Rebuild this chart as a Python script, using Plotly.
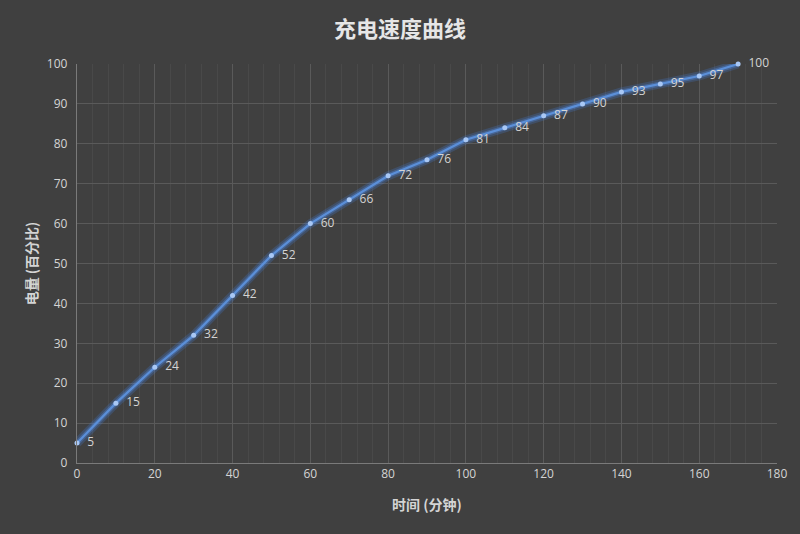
import plotly.graph_objects as go

minutes = [0, 10, 20, 30, 40, 50, 60, 70, 80, 90, 100, 110, 120, 130, 140, 150, 160, 170]
battery = [5, 15, 24, 32, 42, 52, 60, 66, 72, 76, 81, 84, 87, 90, 93, 95, 97, 100]
labels = [f"  {v}" for v in battery]

title_text = "充电速度曲线"
x_title = "时间 (分钟)"
y_title = "电量 (百分比)"

fig = go.Figure()
# glow
fig.add_trace(go.Scatter(x=minutes, y=battery, mode="lines",
                         line=dict(color="rgba(70,130,230,0.22)", width=9),
                         hoverinfo="skip", showlegend=False, cliponaxis=False))
fig.add_trace(go.Scatter(x=minutes, y=battery, mode="lines",
                         line=dict(color="rgba(80,140,235,0.35)", width=5),
                         hoverinfo="skip", showlegend=False, cliponaxis=False))
fig.add_trace(go.Scatter(x=minutes, y=battery, mode="lines+markers+text",
                         line=dict(color="#5b8fd8", width=2.2),
                         marker=dict(color="#a9c8f5", size=5),
                         text=labels, textposition="middle right",
                         textfont=dict(color="#d4d4d4", size=12, family="Open Sans, sans-serif"),
                         showlegend=False, cliponaxis=False))

fig.update_layout(
    width=800, height=534,
    paper_bgcolor="#404040", plot_bgcolor="#404040",
    margin=dict(l=77, r=23, t=64, b=71),
    title=dict(text=f"<b>{title_text}</b>", x=0.5, xanchor="center", y=0.945, yanchor="middle",
               font=dict(size=22, color="#e6e6e6", family="Noto Sans CJK SC")),
    xaxis=dict(range=[0, 180], tick0=0, dtick=20, showgrid=True,
               gridcolor="#5a5a5a", gridwidth=1,
               minor=dict(dtick=4, showgrid=True, gridcolor="#494949", gridwidth=1),
               zeroline=False, showline=True, linecolor="#7a7a7a",
               ticks="", tickfont=dict(size=12, color="#d4d4d4", family="Open Sans, sans-serif"),
               title=dict(text=f"<b>{x_title}</b>", standoff=18,
                          font=dict(size=14, color="#d4d4d4", family="Noto Sans CJK SC"))),
    yaxis=dict(range=[0, 100], tick0=0, dtick=10, showgrid=True,
               gridcolor="#5a5a5a", gridwidth=1,
               zeroline=False, showline=True, linecolor="#7a7a7a",
               ticks="", tickfont=dict(size=12, color="#d4d4d4", family="Open Sans, sans-serif"),
               ticksuffix="  ",
               title=dict(text=f"<b>{y_title}</b>", standoff=5,
                          font=dict(size=14, color="#d4d4d4", family="Noto Sans CJK SC"))),
)

fig.write_html("out.html", config={"displayModeBar": False},
               post_script="document.body.style.margin='0';document.body.style.background='#404040';")
